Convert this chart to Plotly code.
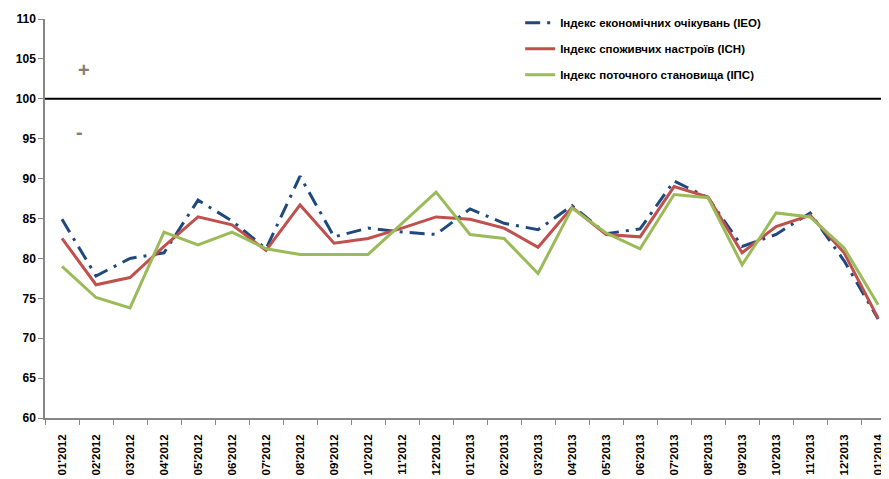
import plotly.graph_objects as go

months = ["01'2012","02'2012","03'2012","04'2012","05'2012","06'2012","07'2012","08'2012",
          "09'2012","10'2012","11'2012","12'2012","01'2013","02'2013","03'2013","04'2013",
          "05'2013","06'2013","07'2013","08'2013","09'2013","10'2013","11'2013","12'2013","01'2014"]

ieo = [84.9, 77.8, 80.0, 80.7, 87.3, 84.7, 81.2, 90.3, 82.7, 83.8, 83.3, 83.0, 86.2,
       84.4, 83.6, 86.6, 83.1, 83.7, 89.7, 87.6, 81.5, 83.0, 85.7, 79.7, 72.4]
ich = [82.5, 76.7, 77.6, 81.5, 85.2, 84.2, 81.0, 86.7, 81.9, 82.5, 83.8, 85.2, 84.9,
       83.8, 81.4, 86.4, 83.0, 82.7, 89.0, 87.7, 80.7, 84.0, 85.4, 80.7, 72.5]
ips = [79.0, 75.1, 73.8, 83.3, 81.7, 83.3, 81.2, 80.5, 80.5, 80.5, 84.4, 88.3, 83.0,
       82.5, 78.1, 86.3, 83.2, 81.2, 88.0, 87.6, 79.2, 85.7, 85.2, 81.3, 74.2]

names = ["Індекс економічних очікувань (ІЕО)",
         "Індекс споживчих настроїв (ІСН)",
         "Індекс поточного становища (ІПС)"]

y_ticks = [60, 65, 70, 75, 80, 85, 90, 95, 100, 105, 110]

FONT = "Liberation Sans, Arial, sans-serif"
AXIS_GREY = "#868686"

fig = go.Figure()
fig.add_trace(go.Scatter(x=months, y=ieo, mode="lines", name=names[0], legendgroup="a",
                         line=dict(color="#1F497D", width=3, dash="15px,7px,3px,7px")))
fig.add_trace(go.Scatter(x=months, y=ich, mode="lines", name=names[1], legendgroup="b",
                         line=dict(color="#C0504D", width=3)))
fig.add_trace(go.Scatter(x=months, y=ips, mode="lines", name=names[2], legendgroup="c",
                         line=dict(color="#9BBB59", width=3)))

fig.add_hline(y=100, line=dict(color="black", width=2))

fig.add_annotation(x=0.65, y=103.6, xref="x", yref="y", text="<b>+</b>", showarrow=False,
                   font=dict(family=FONT, size=20, color="#8C7B70"))
fig.add_annotation(x=0.52, y=95.8, xref="x", yref="y", text="<b>-</b>", showarrow=False,
                   font=dict(family=FONT, size=20, color="#8C7B70"))

fig.update_layout(
    width=881, height=471,
    margin=dict(l=37, r=0, t=11, b=61),
    paper_bgcolor="white", plot_bgcolor="white",
    font=dict(family=FONT, size=11, color="black"),
    showlegend=True,
    legend=dict(x=0.563, y=1.027, xanchor="left", yanchor="top",
                font=dict(family=FONT, size=11.5, color="black", weight="bold"),
                tracegroupgap=7, bgcolor="rgba(0,0,0,0)"),
    xaxis=dict(type="category", range=[-0.5, 24.32], showline=True, linecolor=AXIS_GREY,
               linewidth=1.5, ticks="outside", tickson="boundaries", ticklen=5,
               tickcolor=AXIS_GREY, tickangle=-90, showgrid=False, zeroline=False,
               ticklabelstandoff=10, automargin=False,
               tickfont=dict(family=FONT, size=11.5, color="black", weight="bold")),
    yaxis=dict(range=[60, 110], tickvals=y_ticks, showline=True, linecolor=AXIS_GREY,
               linewidth=1.5, ticks="outside", ticklen=5, tickcolor=AXIS_GREY,
               showgrid=False, zeroline=False, automargin=False,
               tickfont=dict(family=FONT, size=12, color="black", weight="bold")),
)

fig.write_html("out.html")
